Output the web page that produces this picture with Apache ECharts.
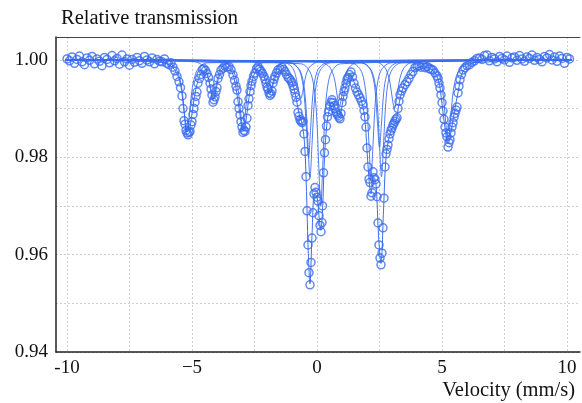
<!DOCTYPE html>
<html>
<head>
<meta charset="utf-8">
<script src="https://cdn.jsdelivr.net/npm/echarts/dist/echarts.min.js"></script>
<style>
html, body { margin: 0; padding: 0; background: #fff; }
#chart { width: 582px; height: 403px; }
</style>
</head>
<body>
<div id="chart"></div>
<script>
// measured points, [velocity mm/s, relative transmission]
const leftBaseline = [
  [-10.0, 1.0002], [-9.9, 0.9998], [-9.8, 1.0006], [-9.7, 0.9993], [-9.6, 1.0001],
  [-9.5, 1.0008], [-9.4, 0.9996], [-9.3, 0.9990], [-9.2, 1.0004], [-9.1, 0.9999],
  [-9.0, 1.0007], [-8.9, 0.9992], [-8.8, 1.0002], [-8.7, 0.9997], [-8.6, 0.9988],
  [-8.5, 1.0005], [-8.4, 1.0001], [-8.3, 0.9994], [-8.2, 1.0009], [-8.1, 0.9998],
  [-8.0, 1.0003], [-7.9, 0.9991], [-7.8, 1.0010], [-7.7, 0.9996], [-7.6, 1.0002],
  [-7.5, 0.9989], [-7.4, 1.0001], [-7.3, 0.9995], [-7.2, 1.0005], [-7.1, 0.9998],
  [-7.0, 0.9993], [-6.9, 1.0007], [-6.8, 1.0000], [-6.7, 0.9996], [-6.6, 1.0004],
  [-6.5, 0.9992], [-6.4, 1.0001], [-6.3, 0.9997]
];
const spectrumPoints = [
  [-6.20, 0.9996], [-6.10, 1.0002], [-6.00, 0.9993], [-5.92, 0.9990], [-5.84, 0.9994],
  [-5.76, 0.9985], [-5.68, 0.9977], [-5.60, 0.9966], [-5.52, 0.9955], [-5.46, 0.9943],
  [-5.40, 0.9926], [-5.36, 0.9900], [-5.32, 0.9875], [-5.28, 0.9868], [-5.24, 0.9855],
  [-5.20, 0.9850], [-5.16, 0.9846], [-5.12, 0.9851], [-5.08, 0.9853], [-5.04, 0.9866],
  [-5.00, 0.9873], [-4.96, 0.9888], [-4.92, 0.9900], [-4.88, 0.9913], [-4.84, 0.9925],
  [-4.80, 0.9934], [-4.76, 0.9952], [-4.70, 0.9962], [-4.64, 0.9970], [-4.58, 0.9980],
  [-4.52, 0.9982], [-4.46, 0.9978], [-4.40, 0.9972], [-4.34, 0.9964], [-4.28, 0.9952],
  [-4.24, 0.9940], [-4.20, 0.9928], [-4.16, 0.9913], [-4.12, 0.9918], [-4.08, 0.9924],
  [-4.04, 0.9935], [-4.00, 0.9943], [-3.96, 0.9962], [-3.90, 0.9970], [-3.84, 0.9979],
  [-3.76, 0.9983], [-3.68, 0.9987], [-3.60, 0.9985], [-3.52, 0.9986], [-3.44, 0.9980],
  [-3.36, 0.9969], [-3.30, 0.9958], [-3.24, 0.9946], [-3.20, 0.9938], [-3.16, 0.9914],
  [-3.12, 0.9900], [-3.08, 0.9887], [-3.04, 0.9873], [-3.00, 0.9862], [-2.96, 0.9851],
  [-2.92, 0.9855], [-2.88, 0.9853], [-2.84, 0.9862], [-2.80, 0.9880], [-2.76, 0.9906],
  [-2.72, 0.9920], [-2.68, 0.9935], [-2.64, 0.9947], [-2.60, 0.9956], [-2.54, 0.9966],
  [-2.48, 0.9973], [-2.42, 0.9982], [-2.36, 0.9986], [-2.30, 0.9981], [-2.24, 0.9977],
  [-2.18, 0.9972], [-2.12, 0.9966], [-2.08, 0.9960], [-2.04, 0.9952], [-2.00, 0.9944],
  [-1.96, 0.9940], [-1.92, 0.9932], [-1.88, 0.9927], [-1.84, 0.9930], [-1.80, 0.9936],
  [-1.76, 0.9952], [-1.72, 0.9960], [-1.68, 0.9966], [-1.62, 0.9973], [-1.56, 0.9979],
  [-1.48, 0.9982], [-1.40, 0.9985], [-1.34, 0.9980], [-1.28, 0.9976], [-1.22, 0.9970],
  [-1.16, 0.9964], [-1.10, 0.9961], [-1.04, 0.9957], [-1.00, 0.9953], [-0.96, 0.9947],
  [-0.92, 0.9940], [-0.88, 0.9932], [-0.84, 0.9923], [-0.80, 0.9913], [-0.76, 0.9892],
  [-0.72, 0.9884], [-0.68, 0.9877], [-0.64, 0.9874], [-0.60, 0.9871], [-0.56, 0.9874],
  [-0.52, 0.9848], [-0.48, 0.9812], [-0.44, 0.9760], [-0.40, 0.9690], [-0.36, 0.9620],
  [-0.32, 0.9563], [-0.28, 0.9538], [-0.24, 0.9584], [-0.20, 0.9634], [-0.16, 0.9686],
  [-0.12, 0.9725], [-0.08, 0.9738], [-0.04, 0.9728], [0.00, 0.9718], [0.04, 0.9710],
  [0.08, 0.9680], [0.12, 0.9660], [0.16, 0.9647], [0.20, 0.9666], [0.22, 0.9700],
  [0.26, 0.9768], [0.30, 0.9809], [0.34, 0.9836], [0.38, 0.9864], [0.42, 0.9883],
  [0.46, 0.9893], [0.52, 0.9905], [0.56, 0.9913], [0.60, 0.9918], [0.64, 0.9912],
  [0.68, 0.9906], [0.72, 0.9900], [0.76, 0.9893], [0.80, 0.9889], [0.84, 0.9886],
  [0.88, 0.9882], [0.92, 0.9879], [0.96, 0.9890], [1.00, 0.9912], [1.04, 0.9925],
  [1.08, 0.9935], [1.12, 0.9942], [1.16, 0.9952], [1.20, 0.9960], [1.24, 0.9964],
  [1.30, 0.9970], [1.36, 0.9975], [1.42, 0.9965], [1.48, 0.9952], [1.54, 0.9942],
  [1.60, 0.9934], [1.66, 0.9928], [1.72, 0.9922], [1.78, 0.9915], [1.84, 0.9908],
  [1.88, 0.9896], [1.92, 0.9883], [1.96, 0.9862], [2.00, 0.9819], [2.04, 0.9780],
  [2.08, 0.9755], [2.12, 0.9748], [2.16, 0.9720], [2.20, 0.9727], [2.24, 0.9770],
  [2.28, 0.9758], [2.32, 0.9754], [2.36, 0.9745], [2.40, 0.9719], [2.44, 0.9665],
  [2.48, 0.9620], [2.52, 0.9593], [2.56, 0.9579], [2.60, 0.9603], [2.64, 0.9655],
  [2.68, 0.9716], [2.72, 0.9780], [2.76, 0.9807], [2.80, 0.9816], [2.84, 0.9825],
  [2.88, 0.9838], [2.92, 0.9848], [2.96, 0.9855], [3.00, 0.9860], [3.04, 0.9866],
  [3.08, 0.9870], [3.12, 0.9874], [3.16, 0.9878], [3.20, 0.9881], [3.24, 0.9900],
  [3.28, 0.9915], [3.32, 0.9928], [3.38, 0.9936], [3.44, 0.9942], [3.52, 0.9949],
  [3.60, 0.9955], [3.68, 0.9962], [3.76, 0.9970], [3.84, 0.9976], [3.92, 0.9984],
  [4.00, 0.9986], [4.08, 0.9988], [4.16, 0.9985], [4.24, 0.9990], [4.32, 0.9984],
  [4.40, 0.9986], [4.48, 0.9982], [4.56, 0.9981], [4.64, 0.9979], [4.72, 0.9973],
  [4.80, 0.9967], [4.84, 0.9962], [4.88, 0.9952], [4.92, 0.9942], [4.96, 0.9928],
  [5.00, 0.9912], [5.04, 0.9895], [5.08, 0.9878], [5.12, 0.9862], [5.16, 0.9850],
  [5.20, 0.9842], [5.24, 0.9821], [5.28, 0.9830], [5.32, 0.9836], [5.36, 0.9850],
  [5.40, 0.9862], [5.44, 0.9871], [5.48, 0.9882], [5.52, 0.9890], [5.56, 0.9897],
  [5.60, 0.9903], [5.64, 0.9932], [5.68, 0.9946], [5.72, 0.9959], [5.78, 0.9970],
  [5.84, 0.9979], [5.92, 0.9984], [6.00, 0.9988], [6.10, 0.9990], [6.20, 0.9995],
  [6.30, 0.9998], [6.40, 1.0003], [6.50, 1.0004]
];
const rightBaseline = [
  [6.6, 1.0001], [6.7, 1.0009], [6.8, 1.0010], [6.9, 0.9998], [7.0, 1.0005],
  [7.1, 1.0002], [7.2, 0.9996], [7.3, 1.0007], [7.4, 1.0003], [7.5, 1.0000],
  [7.6, 1.0008], [7.7, 0.9995], [7.8, 1.0004], [7.9, 1.0006], [8.0, 0.9999],
  [8.1, 1.0009], [8.2, 1.0002], [8.3, 0.9997], [8.4, 1.0006], [8.5, 1.0003],
  [8.6, 1.0010], [8.7, 0.9999], [8.8, 1.0005], [8.9, 1.0001], [9.0, 0.9996],
  [9.1, 1.0007], [9.2, 1.0004], [9.3, 1.0011], [9.4, 1.0000], [9.5, 1.0006],
  [9.6, 0.9997], [9.7, 1.0008], [9.8, 1.0003], [9.9, 0.9993], [10.0, 1.0005],
  [10.1, 1.0002]
];

// total fit curve
const fitTotal = [
  [-10.05, 1.0], [-6.5, 0.9997], [-6.0, 0.9992], [-5.7, 0.9980], [-5.5, 0.9958],
  [-5.4, 0.9930], [-5.3, 0.9885], [-5.2, 0.9852], [-5.1, 0.9858], [-5.0, 0.9890],
  [-4.9, 0.9925], [-4.8, 0.9950], [-4.65, 0.9972], [-4.5, 0.9976], [-4.35, 0.9962],
  [-4.25, 0.9940], [-4.16, 0.9918], [-4.05, 0.9935], [-3.95, 0.9960], [-3.8, 0.9978],
  [-3.6, 0.9984], [-3.4, 0.9975], [-3.25, 0.9945], [-3.1, 0.9895], [-2.96, 0.9855],
  [-2.85, 0.9872], [-2.75, 0.9912], [-2.6, 0.9955], [-2.4, 0.9978], [-2.2, 0.9975],
  [-2.05, 0.9955], [-1.9, 0.9930], [-1.75, 0.9950], [-1.6, 0.9972], [-1.4, 0.9980],
  [-1.2, 0.9972], [-1.0, 0.9955], [-0.85, 0.9925], [-0.7, 0.9885], [-0.6, 0.9870],
  [-0.5, 0.9830], [-0.42, 0.9730], [-0.36, 0.9620], [-0.28, 0.9540], [-0.2, 0.9640],
  [-0.1, 0.9725], [0.0, 0.9718], [0.08, 0.9680], [0.15, 0.9650], [0.22, 0.9690],
  [0.3, 0.9800], [0.4, 0.9870], [0.5, 0.9900], [0.6, 0.9912], [0.75, 0.9898],
  [0.9, 0.9882], [1.0, 0.9905], [1.15, 0.9945], [1.35, 0.9968], [1.55, 0.9945],
  [1.75, 0.9920], [1.9, 0.9885], [2.0, 0.9815], [2.08, 0.9755], [2.16, 0.9725],
  [2.26, 0.9760], [2.36, 0.9745], [2.46, 0.9640], [2.56, 0.9582], [2.66, 0.9690],
  [2.76, 0.9800], [2.9, 0.9845], [3.05, 0.9865], [3.15, 0.9872], [3.3, 0.9915],
  [3.5, 0.9950], [3.8, 0.9975], [4.2, 0.9986], [4.6, 0.9980], [4.85, 0.9960],
  [5.0, 0.9910], [5.12, 0.9860], [5.24, 0.9828], [5.36, 0.9852], [5.5, 0.9895],
  [5.65, 0.9935], [5.8, 0.9972], [6.1, 0.9990], [6.6, 0.9998], [10.2, 1.0]
];

// sub-spectra lines
const lineA1 = [[-10.05, 1], [-6.00, 0.9994], [-5.65, 0.9982], [-5.48, 0.9960], [-5.37, 0.9926], [-5.28, 0.9879], [-5.20, 0.9852], [-5.12, 0.9879], [-5.03, 0.9926], [-4.92, 0.9960], [-4.75, 0.9982], [-4.40, 0.9994], [10.2, 1]];
const lineB1 = [[-10.05, 1], [-4.96, 0.9997], [-4.61, 0.9990], [-4.44, 0.9979], [-4.33, 0.9960], [-4.24, 0.9935], [-4.16, 0.9920], [-4.08, 0.9935], [-3.99, 0.9960], [-3.88, 0.9979], [-3.71, 0.9990], [-3.36, 0.9997], [10.2, 1]];
const lineA2 = [[-10.05, 1], [-3.76, 0.9994], [-3.41, 0.9983], [-3.24, 0.9962], [-3.13, 0.9930], [-3.04, 0.9885], [-2.96, 0.9860], [-2.88, 0.9885], [-2.79, 0.9930], [-2.68, 0.9962], [-2.51, 0.9983], [-2.16, 0.9994], [10.2, 1]];
const lineB2 = [[-10.05, 1], [-2.68, 0.9997], [-2.33, 0.9992], [-2.16, 0.9982], [-2.05, 0.9966], [-1.96, 0.9944], [-1.88, 0.9932], [-1.80, 0.9944], [-1.71, 0.9966], [-1.60, 0.9982], [-1.43, 0.9992], [-1.08, 0.9997], [10.2, 1]];
const lineA3 = [[-10.05, 1], [-1.45, 0.9997], [-1.10, 0.9990], [-0.93, 0.9979], [-0.82, 0.9960], [-0.73, 0.9935], [-0.65, 0.9920], [-0.57, 0.9935], [-0.48, 0.9960], [-0.37, 0.9979], [-0.20, 0.9990], [0.15, 0.9997], [10.2, 1]];
const lineC1 = [[-10.05, 1], [-1.08, 0.9994], [-0.73, 0.9982], [-0.56, 0.9958], [-0.45, 0.9911], [-0.36, 0.9826], [-0.28, 0.9760], [-0.20, 0.9826], [-0.11, 0.9911], [0.00, 0.9958], [0.17, 0.9982], [0.52, 0.9994], [10.2, 1]];
const lineE1 = [[-10.05, 1], [-1.14, 0.9995], [-0.79, 0.9985], [-0.62, 0.9965], [-0.51, 0.9926], [-0.42, 0.9855], [-0.34, 0.9800], [-0.26, 0.9855], [-0.17, 0.9926], [-0.06, 0.9965], [0.11, 0.9985], [0.46, 0.9995], [10.2, 1]];
const lineD1 = [[-10.05, 1], [-0.65, 0.9992], [-0.30, 0.9977], [-0.13, 0.9947], [-0.02, 0.9889], [0.07, 0.9783], [0.15, 0.9700], [0.23, 0.9783], [0.32, 0.9889], [0.43, 0.9947], [0.60, 0.9977], [0.95, 0.9992], [10.2, 1]];
const lineA4 = [[-10.05, 1], [0.10, 0.9996], [0.45, 0.9988], [0.62, 0.9974], [0.73, 0.9953], [0.82, 0.9922], [0.90, 0.9905], [0.98, 0.9922], [1.07, 0.9953], [1.18, 0.9974], [1.35, 0.9988], [1.70, 0.9996], [10.2, 1]];
const lineD2 = [[-10.05, 1], [1.36, 0.9994], [1.71, 0.9982], [1.88, 0.9958], [1.99, 0.9911], [2.08, 0.9826], [2.16, 0.9760], [2.24, 0.9826], [2.33, 0.9911], [2.44, 0.9958], [2.61, 0.9982], [2.96, 0.9994], [10.2, 1]];
const lineE2 = [[-10.05, 1], [1.70, 0.9995], [2.05, 0.9986], [2.22, 0.9968], [2.33, 0.9934], [2.42, 0.9870], [2.50, 0.9820], [2.58, 0.9870], [2.67, 0.9934], [2.78, 0.9968], [2.95, 0.9986], [3.30, 0.9995], [10.2, 1]];
const lineC2 = [[-10.05, 1], [1.78, 0.9994], [2.13, 0.9982], [2.30, 0.9958], [2.41, 0.9911], [2.50, 0.9826], [2.58, 0.9760], [2.66, 0.9826], [2.75, 0.9911], [2.86, 0.9958], [3.03, 0.9982], [3.38, 0.9994], [10.2, 1]];
const lineA5 = [[-10.05, 1], [2.30, 0.9996], [2.65, 0.9988], [2.82, 0.9973], [2.93, 0.9950], [3.02, 0.9918], [3.10, 0.9900], [3.18, 0.9918], [3.27, 0.9950], [3.38, 0.9973], [3.55, 0.9988], [3.90, 0.9996], [10.2, 1]];
const lineA6 = [[-10.05, 1], [4.44, 0.9993], [4.79, 0.9979], [4.96, 0.9956], [5.07, 0.9918], [5.16, 0.9865], [5.24, 0.9835], [5.32, 0.9865], [5.41, 0.9918], [5.52, 0.9956], [5.69, 0.9979], [6.04, 0.9993], [10.2, 1]];

const xLabelValues = [-10, -5, 0, 5, 10];
const xLabelText = { "-10": "-10", "-5": "\u22125", "0": "0", "5": "5", "10": "10" };
const xGridValues = [-10, -7.5, -5, -2.5, 0, 2.5, 5, 7.5, 10];

const blue = "#3a6cf0";
const font = "'Liberation Serif', 'Times New Roman', serif";

const subLines = [lineA1, lineB1, lineA2, lineB2, lineA3, lineC1, lineE1, lineD1,
  lineA4, lineD2, lineE2, lineC2, lineA5, lineA6];

const chart = echarts.init(document.getElementById("chart"));

let series = subLines.map((d) => ({
  type: "line",
  data: d,
  smooth: 0.35,
  showSymbol: false,
  silent: true,
  lineStyle: { color: blue, width: 0.9 },
  z: 2,
}));
series.push({
  type: "line",
  data: fitTotal,
  smooth: 0.35,
  showSymbol: false,
  silent: true,
  lineStyle: { color: blue, width: 1 },
  z: 3,
});
series.push({
  type: "scatter",
  data: leftBaseline.concat(spectrumPoints, rightBaseline),
  symbol: "circle",
  symbolSize: 8,
  itemStyle: { color: "rgba(255,255,255,0)", borderColor: blue, borderWidth: 1.5 },
  z: 4,
});

const option = {
  animation: false,
  backgroundColor: "#fff",
  grid: { left: 56, right: 2, top: 37, bottom: 51 },
  xAxis: [
    {
      type: "value",
      min: -10.44,
      max: 10.52,
      axisLine: { show: true, onZero: false, lineStyle: { color: "#222", width: 1.5 } },
      axisTick: { show: false, customValues: xGridValues },
      axisLabel: {
        customValues: xLabelValues,
        formatter: (v) => xLabelText[String(v)],
        fontFamily: font,
        fontSize: 19,
        color: "#111",
        margin: 7,
      },
      splitLine: {
        show: true,
        customValues: xGridValues,
        lineStyle: { color: "#cfcfcf", type: [2, 2], width: 1 },
      },
    },
    {
      type: "value",
      position: "top",
      min: -10.44,
      max: 10.52,
      axisLine: { show: true, onZero: false, lineStyle: { color: "#444", width: 1 } },
      axisTick: { show: false },
      axisLabel: { show: false },
      splitLine: { show: false },
    },
  ],
  yAxis: {
    type: "value",
    min: 0.94,
    max: 1.0047,
    interval: 0.01,
    axisLine: { show: true, onZero: false, lineStyle: { color: "#222", width: 1.5 } },
    axisTick: { show: false },
    axisLabel: {
      formatter: (v) => {
        if (v > 1.001) return "";
        const k = Math.round(v * 100);
        return k % 2 === 0 ? (k / 100).toFixed(2) : "";
      },
      fontFamily: font,
      fontSize: 19,
      color: "#111",
      margin: 8,
    },
    splitLine: { lineStyle: { color: "#cfcfcf", type: [2, 2], width: 1 } },
  },
  graphic: [
    {
      type: "text",
      left: 61,
      top: 8,
      style: { text: "Relative transmission", font: "20.5px " + font, fill: "#111" },
    },
    {
      type: "text",
      right: 7,
      top: 380,
      style: { text: "Velocity (mm/s)", font: "20.5px " + font, fill: "#111" },
    },
  ],
  series: series,
};
chart.setOption(option);
</script>
</body>
</html>
